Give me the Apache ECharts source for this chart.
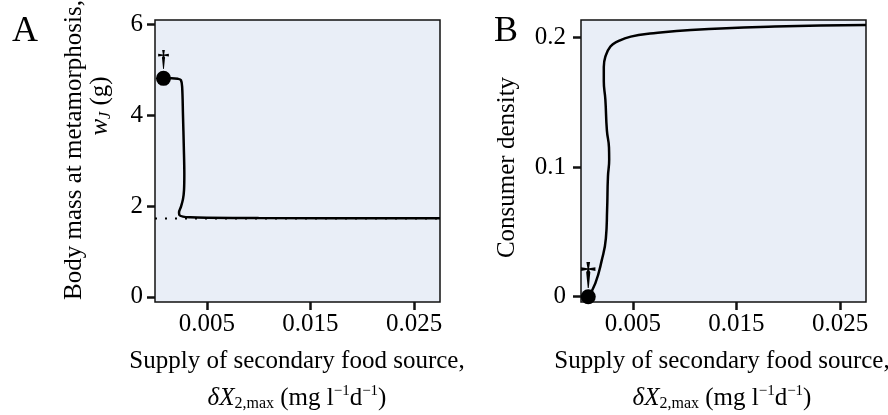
<!DOCTYPE html>
<html>
<head>
<meta charset="utf-8">
<script src="https://cdn.jsdelivr.net/npm/echarts@6/dist/echarts.min.js"></script>
<style>
  html, body { margin: 0; padding: 0; background: #fff; }
  #chart { width: 888px; height: 415px; }
</style>
</head>
<body>
<div id="chart"></div>
<script>
// shared x axis: supply of secondary food source
const xRange = [0, 0.0275]
const xTicks = [0.005, 0.015, 0.025]

// panel A: body mass at metamorphosis (fold-shaped curve)
const massTicks = [0, 2, 4, 6]
const massX = [0.00082, 0.0016, 0.0022, 0.0025, 0.00262, 0.0027, 0.00278, 0.00283, 0.0028, 0.0027, 0.0025, 0.00232, 0.00235, 0.0027, 0.0034, 0.005, 0.01, 0.0275]
const massY = [4.81, 4.81, 4.8, 4.77, 4.62, 4.0, 3.3, 2.7, 2.35, 2.15, 1.98, 1.86, 1.8, 1.765, 1.75, 1.742, 1.735, 1.728]
const threshX = [0, 0.0275]
const threshY = [1.725, 1.725]
const extinctA = [0.00082, 4.81]

// panel B: consumer density
const densTicks = [0, 0.1, 0.2]
const densX = [0.0007, 0.00138, 0.002, 0.0024, 0.00252, 0.0026, 0.00272, 0.0027, 0.0025, 0.00235, 0.0022, 0.0022, 0.00235, 0.00284, 0.0035, 0.0048, 0.007, 0.0106, 0.0187, 0.0275]
const densY = [0, 0.0103, 0.028, 0.045, 0.067, 0.0925, 0.106, 0.115, 0.128, 0.152, 0.166, 0.177, 0.185, 0.1928, 0.1966, 0.2005, 0.203, 0.2056, 0.2082, 0.2095]
const extinctB = [0.0007, 0]

const FONT = 'Liberation Serif'
const zip = (xs, ys) => xs.map((x, i) => [x, ys[i]])

const chart = echarts.init(document.getElementById('chart'))

const tickStyle = { fontSize: 25, fontFamily: FONT, color: '#000' }

function xAxisFor(gridIndex) {
  return {
    type: 'value',
    gridIndex,
    min: xRange[0],
    max: xRange[1],
    axisLine: { show: false, onZero: false },
    splitLine: { show: false },
    axisTick: { customValues: xTicks, length: 8, lineStyle: { color: '#111', width: 2.5 } },
    axisLabel: Object.assign({ customValues: xTicks, margin: 10, formatter: v => String(v) }, tickStyle)
  }
}

function yAxisFor(gridIndex, min, max, ticks, margin) {
  return {
    type: 'value',
    gridIndex,
    min,
    max,
    axisLine: { show: false, onZero: false },
    splitLine: { show: false },
    axisTick: { customValues: ticks, length: 8, lineStyle: { color: '#111', width: 2.5 } },
    axisLabel: Object.assign({ customValues: ticks, margin, formatter: v => String(v) }, tickStyle)
  }
}

function daggerDot(xi, yi, point, daggerSize, dist) {
  return {
    type: 'scatter',
    xAxisIndex: xi,
    yAxisIndex: yi,
    data: [point],
    symbolSize: 15,
    clip: false,
    z: 5,
    itemStyle: { color: '#000', opacity: 1 },
    emphasis: { disabled: true },
    label: {
      show: true,
      position: 'top',
      distance: dist,
      formatter: '\u2020',
      fontSize: daggerSize,
      fontWeight: 'bold',
      fontFamily: FONT,
      color: '#000'
    }
  }
}

// rich text pieces for the axis titles
const rich = {
  n: { fontSize: 25, fontFamily: FONT, lineHeight: 28, verticalAlign: 'middle' },
  i: { fontSize: 25, fontFamily: FONT, fontStyle: 'italic', lineHeight: 28, verticalAlign: 'middle' },
  sub: { fontSize: 16, fontFamily: FONT, lineHeight: 14, verticalAlign: 'bottom' },
  subi: { fontSize: 16, fontFamily: FONT, fontStyle: 'italic', lineHeight: 14, verticalAlign: 'bottom' },
  sup: { fontSize: 15, fontFamily: FONT, lineHeight: 18, verticalAlign: 'top' }
}

function label(x, y, text, opts) {
  return Object.assign({
    type: 'text',
    x,
    y,
    style: {
      text,
      rich,
      fontSize: 25,
      fontFamily: FONT,
      fill: '#000',
      align: 'center',
      verticalAlign: 'middle',
      textAlign: 'center',
      textVerticalAlign: 'middle'
    }
  }, opts || {})
}

const xTitle2 = '{i|\u03b4X}{sub|2,max}{n| (mg l}{sup|\u22121}{n|d}{sup|\u22121}{n|)}'

const option = {
  animation: false,
  backgroundColor: '#fff',
  grid: [
    { left: 155, top: 20, width: 285, height: 282, show: true, backgroundColor: '#e9eef7', borderColor: '#111', borderWidth: 1.5 },
    { left: 581, top: 20, width: 285, height: 282, show: true, backgroundColor: '#e9eef7', borderColor: '#111', borderWidth: 1.5 }
  ],
  xAxis: [xAxisFor(0), xAxisFor(1)],
  yAxis: [
    yAxisFor(0, -0.115, 6.095, massTicks, 12),
    yAxisFor(1, -0.0041, 0.2133, densTicks, 15)
  ],
  series: [
    {
      type: 'line',
      xAxisIndex: 0,
      yAxisIndex: 0,
      data: zip(threshX, threshY),
      showSymbol: false,
      lineStyle: { color: '#000', width: 2, type: [2, 8] }
    },
    {
      type: 'line',
      xAxisIndex: 0,
      yAxisIndex: 0,
      data: zip(massX, massY),
      showSymbol: false,
      smooth: 0.35,
      lineStyle: { color: '#000', width: 2.5 }
    },
    daggerDot(0, 0, extinctA, 24, -1),
    {
      type: 'line',
      xAxisIndex: 1,
      yAxisIndex: 1,
      data: zip(densX, densY),
      showSymbol: false,
      smooth: 0.5,
      lineStyle: { color: '#000', width: 2.5 }
    },
    daggerDot(1, 1, extinctB, 32, -3)
  ],
  graphic: [
    { type: 'text', x: 12, y: 32, style: { text: 'A', fontSize: 36, fontFamily: FONT, fill: '#000', align: 'left', verticalAlign: 'middle', textAlign: 'left', textVerticalAlign: 'middle' } },
    { type: 'text', x: 494, y: 32, style: { text: 'B', fontSize: 36, fontFamily: FONT, fill: '#000', align: 'left', verticalAlign: 'middle', textAlign: 'left', textVerticalAlign: 'middle' } },
    label(74, 150, 'Body mass at metamorphosis,', { rotation: Math.PI / 2 }),
    label(100, 106, '{i|w}{subi|J}{n| (g)}', { rotation: Math.PI / 2 }),
    label(507, 167.5, 'Consumer density', { rotation: Math.PI / 2 }),
    label(297, 361, 'Supply of secondary food source,'),
    label(297, 398, xTitle2),
    label(722, 361, 'Supply of secondary food source,'),
    label(722, 398, xTitle2)
  ]
}

chart.setOption(option)
</script>
</body>
</html>
